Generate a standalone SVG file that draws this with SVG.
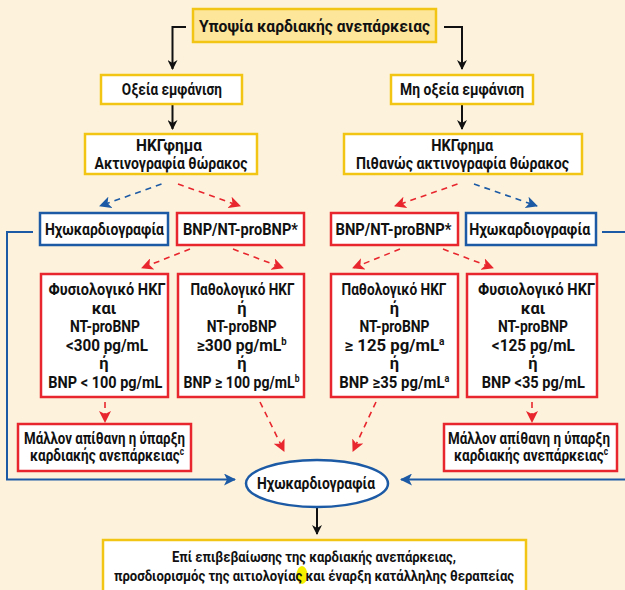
<svg xmlns="http://www.w3.org/2000/svg" width="625" height="590" viewBox="0 0 625 590">
<defs>
<style>
.bg{fill:#fdf3dc}
.y{fill:#ffffff;stroke:#f2c515;stroke-width:2.5}
.ytop{fill:#fde59a;stroke:#f2c515;stroke-width:2.5}
.r{fill:#ffffff;stroke:#e8262e;stroke-width:2.5}
.b{fill:#ffffff;stroke:#1c5aa5;stroke-width:2.5}
text{font-family:Roboto,"Liberation Sans",sans-serif;font-weight:700;font-size:16.5px;fill:#111;text-anchor:middle}
.t{font-size:16px}
.sm{font-size:15.5px}
.sup{font-size:10px}
.k{fill:none;stroke:#111;stroke-width:2}
.dr{fill:none;stroke:#e8262e;stroke-width:1.6;stroke-dasharray:6 5}
.db{fill:none;stroke:#1c5aa5;stroke-width:1.6;stroke-dasharray:6 5}
.sb{fill:none;stroke:#1c5aa5;stroke-width:2}
</style>
<marker id="ak" markerWidth="10" markerHeight="10" refX="9" refY="5" orient="auto" markerUnits="userSpaceOnUse"><path d="M0,0 L10,5 L0,10 L3,5 Z" fill="#111"/></marker>
<marker id="ar" markerWidth="12" markerHeight="12" refX="11" refY="6" orient="auto" markerUnits="userSpaceOnUse"><path d="M0,0 L12,6 L0,12 L3,6 Z" fill="#e8262e"/></marker>
<marker id="ab" markerWidth="12" markerHeight="12" refX="11" refY="6" orient="auto" markerUnits="userSpaceOnUse"><path d="M0,0 L12,6 L0,12 L3,6 Z" fill="#1c5aa5"/></marker>
</defs>
<rect class="bg" x="0" y="0" width="625" height="590"/>

<g id="connectors">
<path class="k" d="M186,27 H172.5 V69" marker-end="url(#ak)"/>
<path class="k" d="M444,27 H462 V69" marker-end="url(#ak)"/>
<path class="k" d="M172.5,104 V129" marker-end="url(#ak)"/>
<path class="k" d="M462,104 V129" marker-end="url(#ak)"/>
<path class="db" d="M161.5,184 L100,206" marker-end="url(#ab)"/>
<path class="dr" d="M178,184 L240,206" marker-end="url(#ar)"/>
<path class="dr" d="M457.5,184 L395,206" marker-end="url(#ar)"/>
<path class="db" d="M474,184 L537,206" marker-end="url(#ab)"/>
<path class="dr" d="M190,249 L142,268" marker-end="url(#ar)"/>
<path class="dr" d="M233,249 L283,268" marker-end="url(#ar)"/>
<path class="dr" d="M400,249 L353,268" marker-end="url(#ar)"/>
<path class="dr" d="M443,249 L493,268" marker-end="url(#ar)"/>
<path class="dr" d="M105,402 V422" marker-end="url(#ar)"/>
<path class="dr" d="M532,402 V422" marker-end="url(#ar)"/>
<path class="dr" d="M260,402 L284,451" marker-end="url(#ar)"/>
<path class="dr" d="M376,402 L353,451" marker-end="url(#ar)"/>
<path class="sb" d="M33,232 H7 V479.5 H235" marker-end="url(#ab)"/>
<path class="sb" d="M602,232 H627"/>
<path class="sb" d="M627,479.5 H401" marker-end="url(#ab)"/>
<path class="k" d="M317,507 V534" marker-end="url(#ak)"/>
</g>

<g id="n-top"><rect class="ytop" x="193" y="9" width="243" height="33"/><text class="t" x="314.5" y="31.5" textLength="231" lengthAdjust="spacingAndGlyphs">Υποψία καρδιακής ανεπάρκειας</text></g>
<g id="n-acute"><rect class="y" x="101" y="75" width="141" height="29"/><text class="t" x="171.8" y="95" textLength="100" lengthAdjust="spacingAndGlyphs">Οξεία εμφάνιση</text></g>
<g id="n-nonacute"><rect class="y" x="391" y="75" width="142" height="29"/><text class="t" x="462" y="95" textLength="124" lengthAdjust="spacingAndGlyphs">Mη οξεία εμφάνιση</text></g>
<g id="n-ecg1"><rect class="y" x="85" y="134" width="172" height="40"/><text class="t" x="169" y="151" textLength="66" lengthAdjust="spacingAndGlyphs">ΗΚΓφημα</text><text class="t" x="171" y="169" textLength="153" lengthAdjust="spacingAndGlyphs">Ακτινογραφία θώρακος</text></g>
<g id="n-ecg2"><rect class="y" x="344" y="134" width="238" height="40"/><text class="t" x="462.3" y="151" textLength="62" lengthAdjust="spacingAndGlyphs">ΗΚΓφημα</text><text class="t" x="462.5" y="169" textLength="213" lengthAdjust="spacingAndGlyphs">Πιθανώς ακτινογραφία θώρακος</text></g>

<g id="n-echo1"><rect class="b" x="40" y="213" width="128" height="32"/><text x="104.5" y="234.5" textLength="119" lengthAdjust="spacingAndGlyphs">Ηχωκαρδιογραφία</text></g>
<g id="n-bnp1"><rect class="r" x="177" y="213" width="127" height="32"/><text x="240.5" y="234.5" textLength="115" lengthAdjust="spacingAndGlyphs">BNP/NT-proBNP*</text></g>
<g id="n-bnp2"><rect class="r" x="331" y="213" width="127" height="32"/><text x="393.5" y="234.5" textLength="116" lengthAdjust="spacingAndGlyphs">BNP/NT-proBNP*</text></g>
<g id="n-echo2"><rect class="b" x="466" y="213" width="130" height="32"/><text x="529.7" y="234.5" textLength="121" lengthAdjust="spacingAndGlyphs">Ηχωκαρδιογραφία</text></g>

<g id="n-norm1"><rect class="r" x="41" y="274" width="127" height="123"/>
<text x="107" y="295" textLength="117" lengthAdjust="spacingAndGlyphs">Φυσιολογικό ΗΚΓ</text><text x="104" y="313.5">και</text><text x="105" y="332" textLength="70" lengthAdjust="spacingAndGlyphs">NT-proBNP</text><text x="107" y="350.5" textLength="82" lengthAdjust="spacingAndGlyphs">&lt;300 pg/mL</text><text x="104" y="369">ή</text><text x="105.3" y="387.5" textLength="114" lengthAdjust="spacingAndGlyphs">BNP &lt; 100 pg/mL</text></g>
<g id="n-path1"><rect class="r" x="178" y="274" width="126" height="123"/>
<text x="242.5" y="295" textLength="104" lengthAdjust="spacingAndGlyphs">Παθολογικό ΗΚΓ</text><text x="242" y="313.5">ή</text><text x="241.7" y="332" textLength="70" lengthAdjust="spacingAndGlyphs">NT-proBNP</text><text x="241.7" y="350.5" textLength="90" lengthAdjust="spacingAndGlyphs">≥300 pg/mL<tspan class="sup" dy="-6">b</tspan></text><text x="242" y="369">ή</text><text x="241.5" y="387.5" textLength="116" lengthAdjust="spacingAndGlyphs">BNP ≥ 100 pg/mL<tspan class="sup" dy="-6">b</tspan></text></g>
<g id="n-path2"><rect class="r" x="331" y="274" width="127" height="123"/>
<text x="394" y="295" textLength="105" lengthAdjust="spacingAndGlyphs">Παθολογικό ΗΚΓ</text><text x="394.5" y="313.5">ή</text><text x="394.5" y="332" textLength="70" lengthAdjust="spacingAndGlyphs">NT-proBNP</text><text x="394.5" y="350.5" textLength="100" lengthAdjust="spacingAndGlyphs">≥ 125 pg/mL<tspan class="sup" dy="-6">a</tspan></text><text x="394.5" y="369">ή</text><text x="394.3" y="387.5" textLength="110" lengthAdjust="spacingAndGlyphs">BNP ≥35 pg/mL<tspan class="sup" dy="-6">a</tspan></text></g>
<g id="n-norm2"><rect class="r" x="467" y="274" width="130" height="123"/>
<text x="536.5" y="295" textLength="117" lengthAdjust="spacingAndGlyphs">Φυσιολογικό ΗΚΓ</text><text x="533" y="313.5">και</text><text x="533" y="332" textLength="70" lengthAdjust="spacingAndGlyphs">NT-proBNP</text><text x="533.3" y="350.5" textLength="83" lengthAdjust="spacingAndGlyphs">&lt;125 pg/mL</text><text x="533" y="369">ή</text><text x="533.3" y="387.5" textLength="103" lengthAdjust="spacingAndGlyphs">BNP &lt;35 pg/mL</text></g>

<g id="n-unlikely1"><rect class="r" x="18" y="424" width="173" height="47"/><text x="104.5" y="443.5" textLength="161" lengthAdjust="spacingAndGlyphs">Μάλλον απίθανη η ύπαρξη</text><text x="107" y="460.5" textLength="154" lengthAdjust="spacingAndGlyphs">καρδιακής ανεπάρκειας<tspan class="sup" dy="-6">c</tspan></text></g>
<g id="n-unlikely2"><rect class="r" x="444" y="424" width="173" height="47"/><text x="529" y="443.5" textLength="162" lengthAdjust="spacingAndGlyphs">Μάλλον απίθανη η ύπαρξη</text><text x="531" y="460.5" textLength="154" lengthAdjust="spacingAndGlyphs">καρδιακής ανεπάρκειας<tspan class="sup" dy="-6">c</tspan></text></g>

<g id="n-echo-final"><ellipse cx="317" cy="483.5" rx="71" ry="23.5" fill="#ffffff" stroke="#1c5aa5" stroke-width="2.5"/><text x="316" y="489" textLength="118" lengthAdjust="spacingAndGlyphs">Ηχωκαρδιογραφία</text></g>

<g id="n-final"><rect class="y" x="103" y="540" width="423" height="56"/>
<ellipse cx="302" cy="575" rx="5.5" ry="9" fill="#f5ee00"/>
<text class="sm" x="314" y="562" textLength="284" lengthAdjust="spacingAndGlyphs">Επί επιβεβαίωσης της καρδιακής ανεπάρκειας,</text>
<text class="sm" x="314" y="580.5" textLength="400" lengthAdjust="spacingAndGlyphs">προσδιορισμός της αιτιολογίας και έναρξη κατάλληλης θεραπείας</text></g>
</svg>
